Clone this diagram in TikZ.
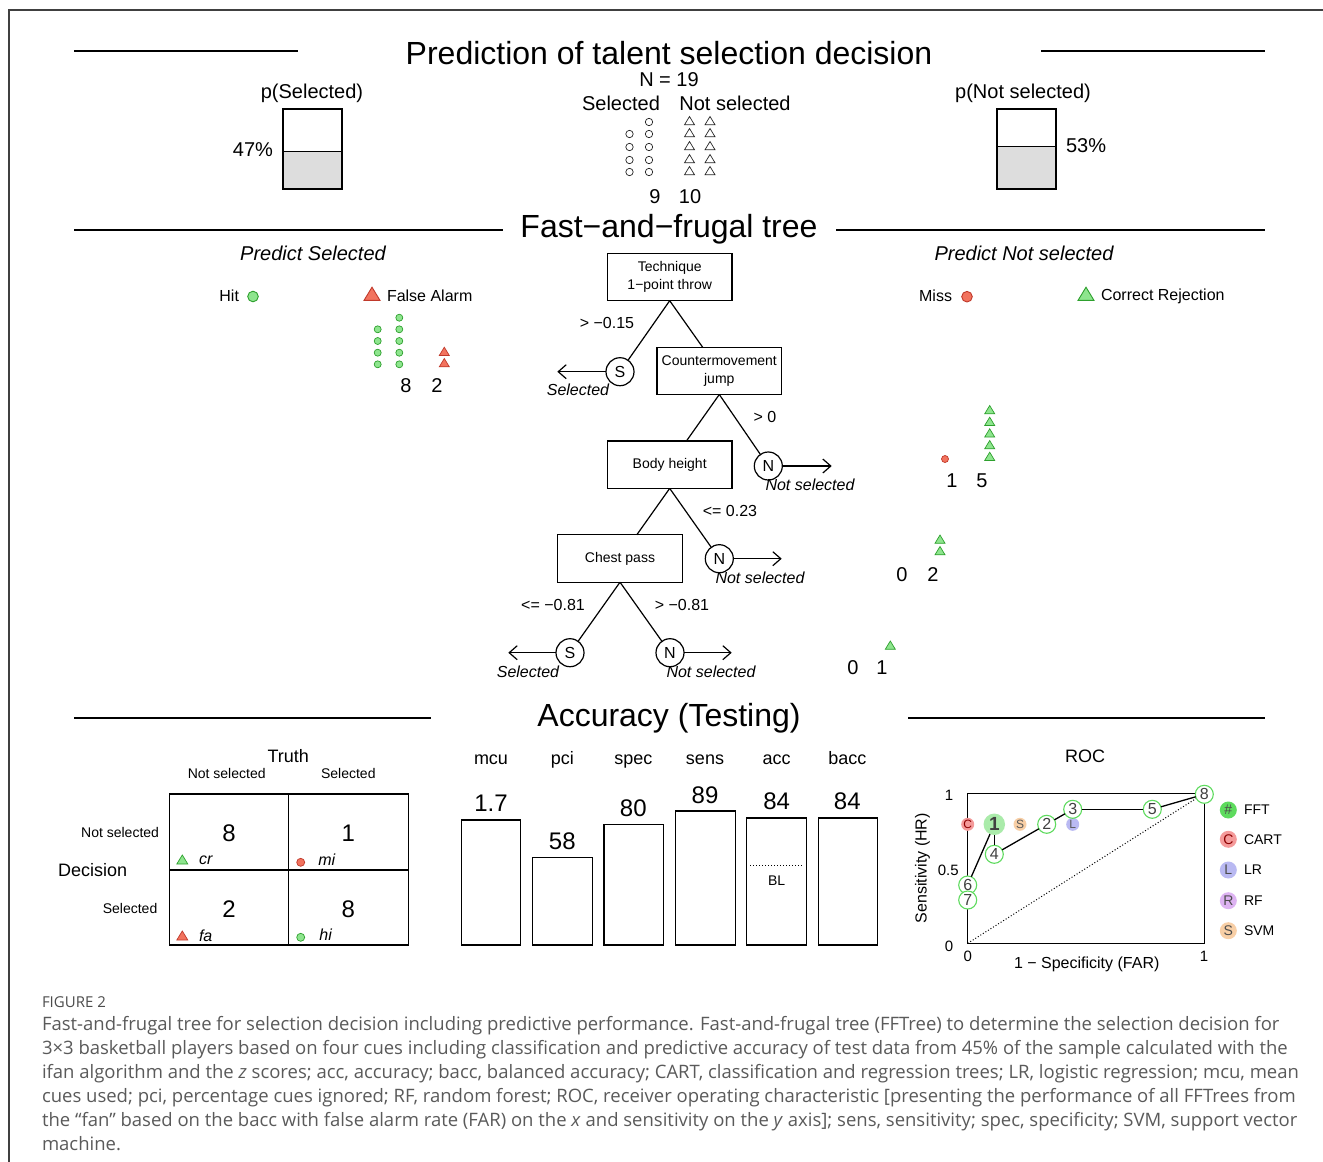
\documentclass[tikz,border=0pt]{standalone}
\usepackage{fontspec}
\setmainfont{Liberation Sans}
\newfontfamily\capfont[FakeStretch=1.0]{Open Sans}
\usetikzlibrary{arrows.meta}
\newcommand\pxsize[1]{\fontsize{#1}{#1}\selectfont}
\newcommand\mytri[4]{\draw[#4] (#1-#3,#2+0.55*#3) -- (#1+#3,#2+0.55*#3) -- (#1,#2-1.1*#3) -- cycle;}
\definecolor{gfill}{HTML}{8EE58E}
\definecolor{gline}{HTML}{2EA02E}
\definecolor{rfill}{HTML}{F2735E}
\definecolor{rline}{HTML}{C0392B}
\definecolor{boxgray}{HTML}{DDDDDD}
\definecolor{capgray}{HTML}{5A5A5A}
\definecolor{rocg}{HTML}{5EDB5E}
\definecolor{cartc}{HTML}{F49A9A}
\definecolor{lrc}{HTML}{B9B9F2}
\definecolor{rfc}{HTML}{DDB3F2}
\definecolor{svmc}{HTML}{F8CFA6}
\tikzset{
  every node/.style={inner sep=0pt, outer sep=0pt},
  t32/.style={font=\pxsize{32}},
  t24/.style={font=\pxsize{24}},
  t20/.style={font=\pxsize{20}},
  t18/.style={font=\pxsize{18}},
  t16/.style={font=\pxsize{16}},
  t15/.style={font=\pxsize{15}},
  t14/.style={font=\pxsize{14}},
  it16/.style={font=\pxsize{16}\itshape},
  it20/.style={font=\pxsize{20}\itshape},
  rule/.style={line width=1.3},
  cue/.style={draw, line width=1.2, minimum width=124.7pt, minimum height=47.4pt, align=center, font=\fontsize{14}{18}\selectfont},
  exitc/.style={draw, circle, line width=1.2, minimum size=28pt, font=\pxsize{16}},
  branch/.style={line width=1.2},
  exitarrow/.style={line width=1.2, -{Straight Barb[length=8pt,width=14pt]}},
  opendot/.style={draw=black!85, line width=0.7},
  gdot/.style={fill=gfill, draw=gline, line width=0.7},
  rdot/.style={fill=rfill, draw=rline, line width=0.7},
  bar/.style={draw, line width=1.1},
  fftpt/.style={circle, draw=rocg, fill=white, line width=1.1, minimum size=18pt, font=\pxsize{16}, text=black!75},
  algpt/.style={circle, minimum size=13pt, font=\pxsize{12}},
  legpt/.style={circle, minimum size=17pt, font=\pxsize{14}, text=black!70},
  caption/.style={anchor=base west, text=capgray, font=\capfont\fontsize{18.5}{18.5}\selectfont},
}
\begin{document}
\begin{tikzpicture}[x=1pt, y=-1pt]
\useasboundingbox (0,0) rectangle (1323,1162);
\fill[white] (0,0) rectangle (1323,1162);
% frame
\draw[line width=1.5, black!75] (9,1162) -- (9,10) -- (1323,10);

% ===== Top section =====
\draw[rule] (74,51) -- (298,51);
\draw[rule] (1041,51) -- (1265,51);
\node[t32] (title) at (669,53) {Prediction of talent selection decision};
\node[t20] (psel) at (312,93) {p(Selected)};
\fill[boxgray] (283,151.4) rectangle (342,189);
\draw[line width=1.2] (283,151.4) -- (342,151.4);
\draw[line width=1.2] (283,109) rectangle (342,189);
\node[t20, anchor=east] (p47) at (273,150) {47\%};
\node[t20] (pnsel) at (1023,93) {p(Not selected)};
\fill[boxgray] (997,146.6) rectangle (1056,189);
\draw[line width=1.2] (997,146.6) -- (1056,146.6);
\draw[line width=1.2] (997,109) rectangle (1056,189);
\node[t20, anchor=west] (p53) at (1066,146) {53\%};
\node[t20] (nn) at (669,80) {N = 19};
\node[t20] (hs) at (621,103) {Selected};
\node[t20] (hns) at (735,103) {Not selected};
\foreach \yy in {134,147,160,172} {\draw[opendot] (629.5,\yy) circle (3.7);}
\foreach \yy in {122,134,147,160,172} {\draw[opendot] (649,\yy) circle (3.7);}
\foreach \yy in {122,134,147,160,172} {\mytri{689.5}{\yy}{5}{opendot}\mytri{710}{\yy}{5}{opendot}}
\node[t20] (n9) at (655,197) {9};
\node[t20] (n10) at (690,197) {10};

% ===== Tree section =====
\draw[rule] (74,230) -- (503,230);
\draw[rule] (836,230) -- (1265,230);
\node[t32] (fftt) at (669,229) {Fast−and−frugal tree};
\node[it20] (ps) at (313,253) {Predict Selected};
\node[it20] (pns) at (1024,253) {Predict Not selected};
\node[t16, anchor=east] (hit) at (239,296) {Hit};
\draw[gdot, line width=0.9] (253,296.5) circle (5.3);
\mytri{372}{296}{8}{rdot, line width=0.9}
\node[t16, anchor=west] (fal) at (387,296) {False Alarm};
\node[t16, anchor=east] (miss) at (952,296) {Miss};
\draw[rdot, line width=0.9] (967,296.7) circle (5.3);
\mytri{1086}{296}{8}{gdot, line width=0.9}
\node[t16, anchor=west] (crj) at (1101,296) {Correct Rejection};

% tree nodes
\node[cue] (tech) at (669.7,277) {Technique\\1−point throw};
\node[cue] (cmj) at (719.3,370.8) {Countermovement\\jump};
\node[cue] (bh) at (669.7,464.7) {Body height};
\node[cue] (cp) at (620,558.5) {Chest pass};
\node[exitc] (s1) at (620,371.7) {S};
\node[exitc] (n1) at (768.3,466) {N};
\node[exitc] (n2) at (719.3,558.7) {N};
\node[exitc] (s2) at (570,652.7) {S};
\node[exitc] (n3) at (670,652.7) {N};
\draw[branch] (tech.south) -- (s1);
\draw[branch] (tech.south) -- (cmj);
\draw[branch] (cmj.south) -- (bh);
\draw[branch] (cmj.south) -- (n1);
\draw[branch] (bh.south) -- (cp);
\draw[branch] (bh.south) -- (n2);
\draw[branch] (cp.south) -- (s2);
\draw[branch] (cp.south) -- (n3);
\coordinate (e1) at (557.3,371.7);
\coordinate (e2) at (831.7,466);
\coordinate (e3) at (781.7,558.7);
\coordinate (e4) at (508.3,652.7);
\coordinate (e5) at (731.7,652.7);
\draw[exitarrow] (s1.west) -- (e1);
\draw[exitarrow] (n1.east) -- (e2);
\draw[exitarrow] (n2.east) -- (e3);
\draw[exitarrow] (s2.west) -- (e4);
\draw[exitarrow] (n3.east) -- (e5);
\node[it16] (l1) at (578,390) {Selected};
\node[it16] (l2) at (810,485) {Not selected};
\node[it16] (l3) at (760,578) {Not selected};
\node[it16] (l4) at (528,672) {Selected};
\node[it16] (l5) at (711,672) {Not selected};
\node[t16] (c1) at (607,323) {> −0.15};
\node[t16] (c2) at (765,417) {> 0};
\node[t16] (c3) at (730,511) {<= 0.23};
\node[t16] (c4) at (553,605) {<= −0.81};
\node[t16] (c5) at (682,605) {> −0.81};

% exit counts
\foreach \yy in {329.3,341,352.7,364.3} {\draw[gdot] (377.7,\yy) circle (3.5);}
\foreach \yy in {317.7,329.3,341,352.7,364.3} {\draw[gdot] (399.3,\yy) circle (3.5);}
\mytri{444.3}{352.7}{5}{rdot}
\mytri{444.3}{364}{5}{rdot}
\node[t20] (k8) at (406,386) {8};
\node[t20] (k2) at (437,386) {2};
\draw[rdot] (945,459) circle (3.5);
\foreach \yy in {411,422.7,434.3,446,457.7} {\mytri{989.7}{\yy}{5}{gdot}}
\node[t20] (k1) at (952,481) {1};
\node[t20] (k5) at (982,481) {5};
\mytri{940}{540.5}{5}{gdot}
\mytri{940}{552}{5}{gdot}
\node[t20] (k0a) at (902,575) {0};
\node[t20] (k2b) at (933,575) {2};
\mytri{890.3}{646.5}{5}{gdot}
\node[t20] (k0b) at (853,668) {0};
\node[t20] (k1b) at (882,668) {1};

% ===== Accuracy section =====
\draw[rule] (74,718) -- (431,718);
\draw[rule] (908,718) -- (1265,718);
\node[t32] (acct) at (669,718) {Accuracy (Testing)};

% confusion matrix
\node[t18] (truth) at (288.3,756) {Truth};
\node[t14] (cns) at (226.7,773) {Not selected};
\node[t14] (cs) at (348.3,773) {Selected};
\node[t14, anchor=east] (rns) at (159,832) {Not selected};
\node[t14, anchor=east] (rs) at (157.3,908) {Selected};
\node[t18] (dec) at (92.7,870) {Decision};
\draw[line width=1.3] (169.3,794) rectangle (408.3,945);
\draw[line width=1.3] (288.7,794) -- (288.7,945);
\draw[line width=1.3] (169.3,870) -- (408.3,870);
\node[t24] (m11) at (229,833) {8};
\node[t24] (m12) at (348.3,833) {1};
\node[t24] (m21) at (229,909) {2};
\node[t24] (m22) at (348.3,909) {8};
\mytri{182.3}{861}{5.5}{gdot}
\node[it16] (cr) at (205.7,860) {cr};
\draw[rdot] (300.7,862.3) circle (4);
\node[it16] (mi) at (326.7,860) {mi};
\mytri{182.3}{937}{5.5}{rdot}
\node[it16] (fa) at (205.7,936) {fa};
\draw[gdot] (300.7,937.3) circle (4);
\node[it16] (hi) at (325.7,934.5) {hi};

% bars
\foreach \nm/\lx/\xa/\xb/\top/\val/\vy in {
  mcu/491/461.7/520.7/820/1.7/803.3,
  pci/562.3/532.7/592.3/857.7/58/841.7,
  spec/633.3/604/663.7/824.7/80/808.3,
  sens/705/675.3/735.3/811/89/795,
  acc/776.7/746.7/806.7/818/84/801,
  bacc/847.3/818.3/877.7/818/84/801} {
  \node[t18, anchor=base] (lab\nm) at (\lx,764.5) {\nm};
  \draw[bar] (\xa,\top) rectangle (\xb,945);
  \node[t24] (val\nm) at (\lx,\vy) {\val};
}
\draw[dotted, line width=1] (750,865.7) -- (803,865.7);
\node[t14] (bl) at (776.7,880.5) {BL};

% ROC
\node[t18] (roct) at (1085,756) {ROC};
\draw[line width=1.3] (967.7,793.3) rectangle (1204.3,943.3);
\draw[dotted, line width=1] (967.7,943.3) -- (1204.3,793.3);
\node[t15] (ty1) at (949,795) {1};
\node[t15] (ty05) at (948.3,870.5) {0.5};
\node[t15] (ty0) at (949,946.5) {0};
\node[t15] (tx0) at (967.7,956) {0};
\node[t15] (tx1) at (1204,956) {1};
\node[t16, rotate=90] (ylab) at (922.5,868.3) {Sensitivity (HR)};
\node[t16] (xlab) at (1086.7,964.5) {1 − Specificity (FAR)};
\node[algpt, fill=cartc, text=red!55!black] (cart) at (967.7,824.3) {C};
\node[algpt, fill=svmc, text=black!65] (svm) at (1020,824.3) {S};
\node[algpt, fill=lrc, text=black!65] (lr) at (1072.7,824.3) {L};
\node[fftpt] (f8) at (1204.3,794.3) {8};
\node[fftpt] (f5) at (1152.3,809.3) {5};
\node[fftpt] (f3) at (1072.7,809.3) {3};
\node[fftpt] (f2) at (1046.7,824.3) {2};
\node[fftpt] (f4) at (994.3,854.3) {4};
\node[fftpt] (f6) at (967.7,885) {6};
\node[fftpt] (f7) at (967.7,900) {7};
\node[circle, fill=gfill!75, minimum size=21.5pt, font=\bfseries\pxsize{19}, text=black!75] (f1) at (994.3,824.3) {1};
\draw[line width=1.3] (f6) -- (f1);
\draw[line width=1.3] (f1) -- (f4);
\draw[line width=1.3] (f4) -- (f2);
\draw[line width=1.3] (f2) -- (f3);
\draw[line width=1.3] (f3) -- (f5);
\draw[line width=1.3] (f5) -- (f8);
% legend
\node[legpt, fill=rocg] (lg1) at (1228.3,810) {\#};
\node[legpt, fill=cartc, text=red!55!black] (lg2) at (1228.3,839.3) {C};
\node[legpt, fill=lrc] (lg3) at (1228.3,870) {L};
\node[legpt, fill=rfc] (lg4) at (1228.3,900.7) {R};
\node[legpt, fill=svmc] (lg5) at (1228.3,930.7) {S};
\node[t14, anchor=west] (lt1) at (1244,810) {FFT};
\node[t14, anchor=west] (lt2) at (1244,839.3) {CART};
\node[t14, anchor=west] (lt3) at (1244,870) {LR};
\node[t14, anchor=west] (lt4) at (1244,900.7) {RF};
\node[t14, anchor=west] (lt5) at (1244,930.7) {SVM};

% ===== Caption =====
\node[anchor=base west, text=capgray!85!black, font=\capfont\fontsize{15}{15}\selectfont] (fig) at (42,1007) {FIGURE 2};
\node[caption] (cap1) at (42,1030) {Fast-and-frugal tree for selection decision including predictive performance. Fast-and-frugal tree (FFTree) to determine the selection decision for};
\node[caption] (cap2) at (42,1054) {3×3 basketball players based on four cues including classification and predictive accuracy of test data from 45\% of the sample calculated with the};
\node[caption] (cap3) at (42,1078) {ifan algorithm and the \textit{z} scores; acc, accuracy; bacc, balanced accuracy; CART, classification and regression trees; LR, logistic regression; mcu, mean};
\node[caption] (cap4) at (42,1102) {cues used; pci, percentage cues ignored; RF, random forest; ROC, receiver operating characteristic [presenting the performance of all FFTrees from};
\node[caption] (cap5) at (42,1126) {the “fan” based on the bacc with false alarm rate (FAR) on the \textit{x} and sensitivity on the \textit{y} axis]; sens, sensitivity; spec, specificity; SVM, support vector};
\node[caption] (cap6) at (42,1150) {machine.};
\end{tikzpicture}
\end{document}
